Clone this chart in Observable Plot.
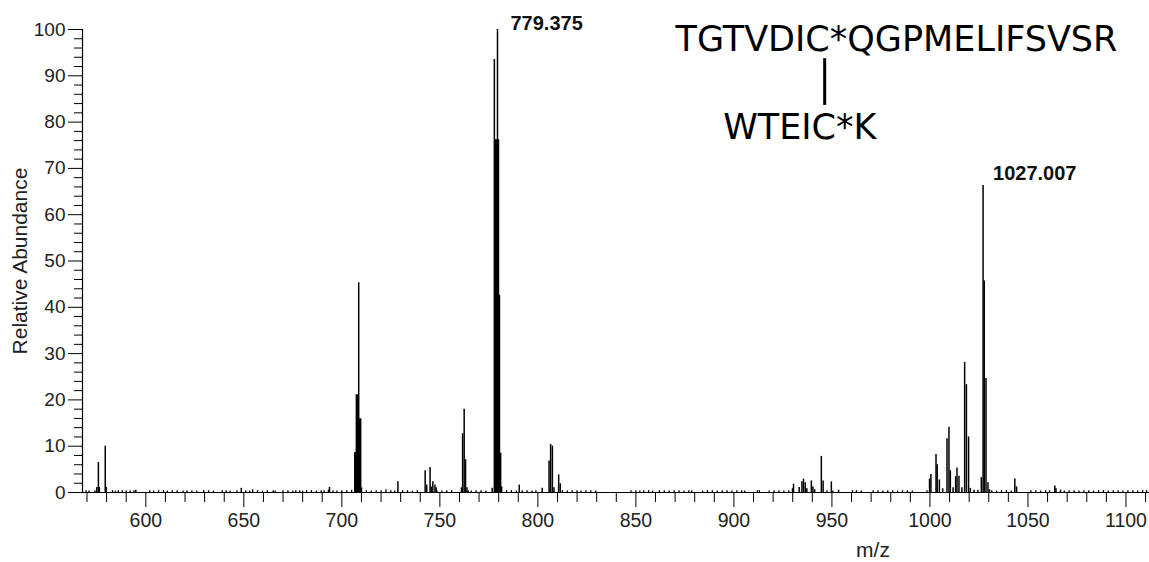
<!DOCTYPE html>
<html>
<head>
<meta charset="utf-8">
<script src="https://cdn.jsdelivr.net/npm/d3@7"></script>
<script src="https://cdn.jsdelivr.net/npm/@observablehq/plot@0.6"></script>
<style>
  html, body { margin: 0; padding: 0; background: #fff; }
</style>
</head>
<body>
<div id="chart"></div>
<script>
// Spectrum peaks (m/z, relative abundance)
const peakMz = [
  575.0, 575.8, 576.3, 579.3, 579.8, 594.9, 648.7, 693.2, 693.7,
  706.6, 707.0, 707.4, 707.9, 708.6, 709.1, 709.6, 710.0, 728.6,
  742.5, 743.3, 745.0, 745.6, 746.4, 747.5, 748.1,
  761.0, 761.6, 762.4, 763.1, 763.8,
  776.7, 777.8, 778.3, 778.8, 779.4, 779.9, 780.4, 781.0, 781.5, 790.5,
  802.2, 805.7, 806.5, 807.4, 808.2, 810.6, 811.4,
  929.9, 930.4, 933.3, 934.7, 935.5, 936.4, 937.2, 939.5, 940.3, 941.2,
  944.6, 945.5, 949.7, 953.4,
  999.8, 1000.5, 1003.1, 1003.7, 1004.8, 1006.5, 1008.7, 1009.7, 1010.4, 1011.8,
  1013.1, 1013.8, 1014.8, 1016.3, 1017.7, 1018.6, 1019.7, 1020.6, 1022.5, 1024.5,
  1026.2, 1027.1, 1027.7, 1028.6, 1029.6, 1030.4,
  1043.3, 1044.2, 1063.7, 1064.3, 1066.6
];
const peakInt = [
  1.1, 6.5, 1.1, 10.0, 1.1, 0.5, 0.9, 0.5, 1.1,
  8.6, 8.6, 21.1, 21.1, 45.3, 15.9, 15.9, 1.0, 2.3,
  4.7, 1.6, 5.4, 1.2, 2.3, 1.6, 1.0,
  1.0, 12.7, 18.0, 7.1, 1.0,
  0.9, 93.5, 76.2, 76.2, 100, 76.2, 42.6, 8.5, 1.2, 1.6,
  0.9, 6.8, 10.4, 10.0, 1.0, 3.8, 1.9,
  0.8, 1.8, 1.1, 2.3, 2.9, 2.1, 0.8, 2.5, 1.2, 0.6,
  7.8, 2.5, 2.3, 0.5,
  2.9, 3.9, 8.2, 6.0, 2.7, 0.8, 11.6, 14.1, 4.7, 1.0,
  3.4, 5.3, 3.5, 1.0, 28.1, 23.3, 12.0, 0.9, 0.5, 0.5,
  3.2, 66.3, 45.7, 24.6, 2.1, 0.6,
  2.9, 1.2, 1.4, 0.8, 0.5
];

// Baseline noise read along the axis
const noiseMz = [
  569.5, 571, 574, 583, 584.5, 586, 588, 590, 592, 594, 602, 604, 606.5, 609, 611, 613.5, 616,
  619, 621, 623.5, 626, 629.5, 632, 634.5, 639, 641, 643, 646.5, 651, 653, 654.5, 657, 659.5, 662,
  665, 666, 670, 672.5, 675, 676.5, 678.5, 680, 682, 684.5, 687, 689.5, 691, 695.5, 697.5, 700,
  702.5, 705, 712.5, 715, 717.5, 720, 722.5, 725, 727, 731, 733.5, 736, 738.5, 748.5, 751, 753.5,
  756, 764.5, 766, 768.5, 771, 773.5, 784, 786.5, 789, 792, 794.5, 797, 799, 812.5, 815, 817.5,
  820, 822, 824.5, 827, 829.5, 847.5, 850, 852, 854, 856.5, 858.5, 862, 864.5, 867, 869.5, 872,
  874.5, 877, 878.5, 884, 886.5, 889, 891.5, 894, 896.5, 899, 901.5, 904, 905.5, 912, 913, 918,
  920.5, 923, 925.5, 928, 947.5, 950.5, 960.5, 962.5, 965, 971, 973.5, 976, 978.5, 981, 983.5,
  986, 988.5, 991, 998.5, 1031.5, 1034, 1036.5, 1039, 1041.5, 1051.5, 1054, 1056.5, 1059, 1061,
  1068.5, 1071, 1073.5, 1076, 1078.5, 1081, 1083.5, 1086, 1088.5, 1091, 1093.5, 1096, 1098.5,
  1101, 1103.5, 1106, 1108.5, 1110.5
];
const noiseInt = [
  0.4, 0.3, 0.4, 0.4, 0.3, 0.4, 0.4, 0.3, 0.4, 0.4, 0.4, 0.3, 0.4, 0.4, 0.3, 0.4, 0.4,
  0.3, 0.4, 0.4, 0.3, 0.4, 0.4, 0.3, 0.4, 0.4, 0.3, 0.4, 0.4, 0.3, 0.6, 0.4, 0.3, 0.4,
  0.4, 0.3, 0.4, 0.4, 0.3, 0.4, 0.4, 0.3, 0.4, 0.4, 0.3, 0.4, 0.4, 0.4, 0.3, 0.4,
  0.4, 0.5, 0.4, 0.3, 0.4, 0.4, 0.6, 0.4, 0.3, 0.4, 0.4, 0.3, 0.4, 0.4, 0.3, 0.4,
  0.4, 0.4, 0.3, 0.4, 0.4, 0.3, 0.4, 0.4, 0.3, 0.4, 0.4, 0.3, 0.4, 0.4, 0.3, 0.4,
  0.4, 0.3, 0.4, 0.4, 0.3, 0.4, 0.4, 0.3, 0.4, 0.4, 0.3, 0.4, 0.4, 0.3, 0.4, 0.4,
  0.3, 0.4, 0.4, 0.3, 0.4, 0.4, 0.3, 0.4, 0.4, 0.3, 0.4, 0.4, 0.3, 0.4, 0.4, 0.3,
  0.4, 0.4, 0.3, 0.4, 0.4, 0.3, 0.4, 0.4, 0.3, 0.4, 0.4, 0.3, 0.4, 0.4, 0.3,
  0.4, 0.4, 0.3, 0.4, 0.4, 0.3, 0.4, 0.4, 0.3, 0.4, 0.4, 0.3, 0.4, 0.4,
  0.3, 0.4, 0.4, 0.3, 0.4, 0.4, 0.3, 0.4, 0.4, 0.3, 0.4, 0.4, 0.3,
  0.4, 0.4, 0.3, 0.4, 0.4
];

// Annotated peaks
const labelText = ["779.375", "1027.007"];
const labelMz = [779.4, 1027.1];
const labelInt = [100, 66.3];

// Axis ticks
const xMajorTicks = [600, 650, 700, 750, 800, 850, 900, 950, 1000, 1050, 1100];
const xMinorTicks = [570, 580, 590, 610, 620, 630, 640, 660, 670, 680, 690, 710, 720, 730, 740,
  760, 770, 780, 790, 810, 820, 830, 840, 860, 870, 880, 890, 910, 920, 930, 940, 960, 970, 980,
  990, 1010, 1020, 1030, 1040, 1060, 1070, 1080, 1090, 1110];
const yMajorTicks = [0, 10, 20, 30, 40, 50, 60, 70, 80, 90, 100];
const yMinorTicks = [2, 4, 6, 8, 12, 14, 16, 18, 22, 24, 26, 28, 32, 34, 36, 38, 42, 44, 46, 48,
  52, 54, 56, 58, 62, 64, 66, 68, 72, 74, 76, 78, 82, 84, 86, 88, 92, 94, 96, 98];

// Peptide annotation
const peptideTop = "TGTVDIC*QGPMELIFSVSR";
const peptideBottom = "WTEIC*K";
const xTitle = "m/z";
const yTitle = "Relative Abundance";

const sans = "'Liberation Sans', Arial, sans-serif";
const pepFont = "'DejaVu Sans', Verdana, Tahoma, sans-serif";

const chart = Plot.plot({
  width: 1149,
  height: 562,
  marginLeft: 82,
  marginRight: 0,
  marginTop: 29,
  marginBottom: 70,
  style: {background: "#fff", color: "#000", overflow: "visible"},
  x: {domain: [567.7, 1112], axis: null},
  y: {domain: [0, 100], axis: null},
  marks: [
    // noise sticks
    Plot.ruleX(noiseMz, {x: d => d, y1: 0, y2: (d, i) => noiseInt[i], stroke: "#000", strokeWidth: 1.3}),
    // peaks
    Plot.ruleX(peakMz, {x: d => d, y1: 0, y2: (d, i) => peakInt[i], stroke: "#000", strokeWidth: 1.5}),
    // axes lines
    Plot.frame({anchor: "left", stroke: "#000", strokeWidth: 1.2}),
    Plot.frame({anchor: "bottom", stroke: "#000", strokeWidth: 1.2}),
    // x ticks
    Plot.axisX({ticks: xMinorTicks, tickSize: 10, tickFormat: () => "", label: null, stroke: "#000"}),
    Plot.axisX({ticks: xMajorTicks, tickSize: 15, tickPadding: 6, tickFormat: d => String(d),
      label: null, fontSize: 19.5, fontFamily: sans, fill: "#222", stroke: "#000"}),
    // y ticks
    Plot.axisY({ticks: yMinorTicks, tickSize: 8, tickFormat: () => "", label: null, stroke: "#000"}),
    Plot.axisY({ticks: yMajorTicks, tickSize: 14, tickPadding: 3, tickFormat: d => String(d),
      label: null, fontSize: 19, fontFamily: sans, fill: "#222", stroke: "#000"}),
    // axis titles
    Plot.text([yTitle], {frameAnchor: "left", textAnchor: "middle", lineAnchor: "middle",
      dx: -62, rotate: -90, fontSize: 21, fontFamily: sans, fill: "#222"}),
    Plot.text([xTitle], {frameAnchor: "bottom", textAnchor: "middle", lineAnchor: "middle",
      dx: 257, dy: 58, fontSize: 21, fontFamily: sans, fill: "#222"}),
    // peak labels
    Plot.text([labelText[0]], {x: [labelMz[0]], y: [labelInt[0]], textAnchor: "start", lineAnchor: "middle",
      dx: 13, dy: -5.5, fontSize: 20, fontWeight: "bold", fontFamily: sans, fill: "#111"}),
    Plot.text([labelText[1]], {x: [labelMz[1]], y: [labelInt[1]], textAnchor: "start", lineAnchor: "middle",
      dx: 10, dy: -11.5, fontSize: 20, fontWeight: "bold", fontFamily: sans, fill: "#111"}),
    // peptide annotation
    Plot.text([peptideTop], {frameAnchor: "top-left", textAnchor: "start", lineAnchor: "middle",
      dx: 593, dy: 10.5, fontSize: 35, fontFamily: pepFont, fill: "#000"}),
    Plot.text([peptideBottom], {frameAnchor: "top-left", textAnchor: "start", lineAnchor: "middle",
      dx: 640.7, dy: 97.8, fontSize: 35, fontFamily: pepFont, fill: "#000"}),
    Plot.ruleX([946.3], {y1: 83.6, y2: 93.7, stroke: "#000", strokeWidth: 3})
  ]
});
document.getElementById("chart").appendChild(chart);
</script>
</body>
</html>
